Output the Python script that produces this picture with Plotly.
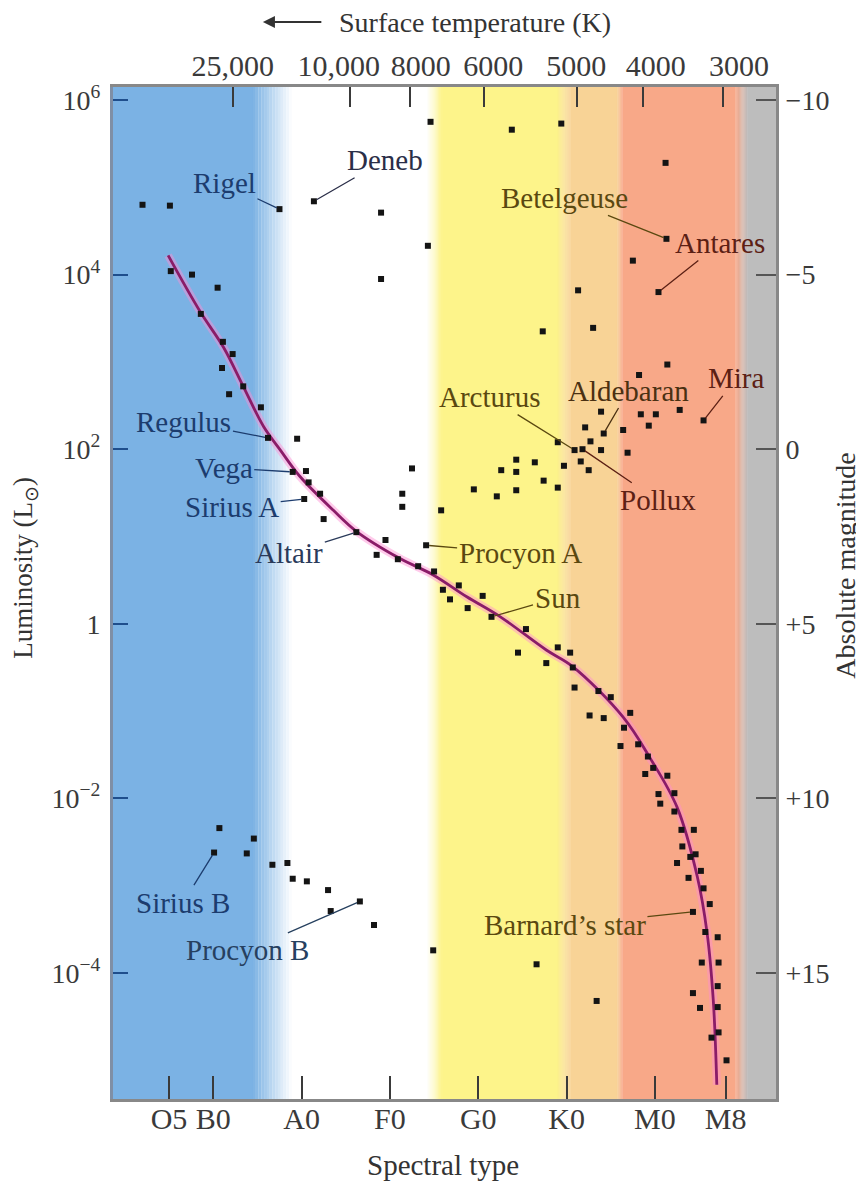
import numpy as np
import plotly.graph_objects as go

# ---------------- data ----------------
# x = spectral index (O0=0, B0=10, A0=20, F0=30, G0=40, K0=50, M0=60), y = log10(L/Lsun)
spectral_labels = ["O5", "B0", "A0", "F0", "G0", "K0", "M0", "M8"]
spectral_pos = [5, 10, 20, 30, 40, 50, 60, 68]

temp_labels = ["25,000", "10,000", "8000", "6000", "5000", "4000", "3000"]
temp_pos = [12.25, 25.5, 32.3, 40.65, 51.2, 58.6, 67.7]          # tick marks
temp_label_pos = [12.2, 24.2, 33.5, 41.7, 51.1, 60.1, 69.5]      # printed labels

lum_tick_vals = [1e6, 1e4, 1e2, 1, 1e-2, 1e-4]
lum_tick_text = ["10<sup>6</sup>", "10<sup>4</sup>", "10<sup>2</sup>", "1",
                 "10<sup>−2</sup>", "10<sup>−4</sup>"]

mag_tick_vals = [-10, -5, 0, 5, 10, 15]
mag_tick_text = ["−10", "−5", "0", "+5", "+10", "+15"]

named_stars = ["Rigel", "Deneb", "Betelgeuse", "Antares", "Regulus", "Vega", "Sirius A",
               "Altair", "Procyon A", "Sun", "Arcturus", "Aldebaran", "Pollux", "Mira",
               "Sirius B", "Procyon B", "Barnard’s star"]
named_s = [17.5, 21.4, 61.3, 60.4, 16.2, 19.0, 20.3, 26.2, 34.1, 41.5, 50.9, 54.2, 51.8,
           65.5, 10.1, 26.6, 64.3]
named_logL = [4.75, 4.84, 4.41, 3.80, 2.13, 1.74, 1.43, 1.05, 0.90, 0.08, 1.99, 2.18, 2.00,
              2.33, -2.62, -3.18, -3.30]

giant_s = [34.6, 43.8, 49.4, 61.2, 2.0, 5.1, 29.0, 34.3, 57.5, 29.0, 51.3, 47.3, 53.0,
           61.4, 58.2, 32.5, 31.4, 31.4, 35.8, 42.6, 44.3, 44.3, 46.4, 47.4, 39.5, 42.1,
           44.3, 49.0, 49.7, 49.0, 52.1, 52.7, 53.9, 51.6, 52.5, 53.9, 56.4, 56.9, 58.4,
           60.1, 59.3, 62.8, 46.6, 53.4]
giant_logL = [5.75, 5.66, 5.73, 5.28, 4.80, 4.79, 4.71, 4.33, 4.16, 3.95, 3.82, 3.35, 3.39,
              2.97, 2.85, 1.78, 1.49, 1.34, 1.30, 1.76, 1.88, 1.74, 1.85, 1.64, 1.54, 1.46,
              1.53, 1.56, 1.81, 2.08, 2.25, 2.09, 1.99, 1.86, 1.76, 2.43, 2.22, 1.96, 2.40,
              2.40, 2.27, 2.45, -3.90, -4.32]

ms_s = [5.2, 7.6, 10.5, 8.6, 11.1, 12.2, 11.0, 13.4, 11.8, 15.4, 19.5, 20.5, 20.8, 22.1,
        22.5, 29.5, 28.5, 30.9, 33.2, 35.0, 36.0, 37.8, 36.8, 38.8, 40.5, 45.4, 49.0, 44.5,
        50.4, 47.7, 50.7, 50.9, 53.6, 55.0, 52.6, 54.2, 57.2, 56.5, 56.1, 58.1, 59.2, 59.8,
        58.9, 61.4, 60.4, 62.2, 60.6, 62.2, 63.0, 64.4, 63.1, 64.6, 64.0, 62.5, 63.8, 65.2,
        65.5, 66.2, 65.7, 67.1, 65.3, 67.2, 67.1, 64.3, 65.1, 67.1, 67.2, 66.4, 68.1]
ms_logL = [4.04, 4.00, 3.85, 3.55, 3.23, 3.09, 2.93, 2.72, 2.63, 2.48, 2.12, 1.75, 1.62,
           1.49, 1.20, 0.96, 0.79, 0.74, 0.66, 0.60, 0.39, 0.44, 0.28, 0.18, 0.32, -0.06,
           -0.27, -0.33, -0.33, -0.45, -0.50, -0.73, -0.77, -0.84, -1.05, -1.08, -1.02,
           -1.19, -1.40, -1.38, -1.52, -1.65, -1.72, -1.74, -1.95, -1.94, -2.06, -2.15,
           -2.36, -2.36, -2.55, -2.64, -2.67, -2.74, -2.91, -2.83, -3.03, -3.21, -3.53,
           -3.59, -3.88, -3.88, -4.15, -4.23, -4.40, -4.39, -4.68, -4.74, -5.00]

wd_s = [10.7, 14.6, 13.8, 16.7, 18.4, 19.0, 20.6, 23.0, 23.3, 28.2, 34.9]
wd_logL = [-2.34, -2.46, -2.63, -2.76, -2.74, -2.92, -2.95, -3.05, -3.29, -3.45, -3.74]

curve_s = [4.9, 8.5, 11.15, 13.4, 15.7, 17.6, 19.8, 23.6, 26.2, 31.1, 34.9, 38.7, 42.5,
           47.7, 50.7, 56.4, 59.4, 62.5, 64.8, 65.9, 66.6, 67.0]
curve_logL = [4.22, 3.58, 3.17, 2.72, 2.26, 1.99, 1.69, 1.30, 1.06, 0.75, 0.56, 0.31, 0.08,
              -0.30, -0.49, -1.07, -1.53, -2.10, -2.90, -3.54, -4.31, -5.28]

# ---------------- styling ----------------
FONT = "Liberation Serif"
X_RANGE = [-1.34, 73.7]
Y_RANGE = [-5.443, 6.149]           # log10 L
BLUE, WHITE, YELLOW = "#7BB2E4", "#FFFFFF", "#FDF48A"
PEACH, SALMON, GRAY = "#F8D396", "#F8A888", "#BDBDBD"
bands = [  # (x0, x1, color_left, color_right)
    (X_RANGE[0], 14.5, BLUE, BLUE), (14.5, 18.9, BLUE, WHITE), (18.9, 34.2, WHITE, WHITE),
    (34.2, 35.9, WHITE, YELLOW), (35.9, 48.9, YELLOW, YELLOW), (48.9, 50.4, YELLOW, PEACH),
    (50.4, 55.7, PEACH, PEACH), (55.7, 56.3, PEACH, SALMON), (56.3, 69.1, SALMON, SALMON),
    (69.1, 70.5, SALMON, GRAY), (70.5, X_RANGE[1], GRAY, GRAY)]

NAVY, OLIVE, BROWN, RED = "#1C3C6E", "#5A4810", "#4A3012", "#5C2014"
label_style = {  # name: (ax, ay, color)
    "Rigel": (-55, -26, NAVY), "Deneb": (71, -41, "#2A2E48"),
    "Betelgeuse": (-102, -41, OLIVE), "Antares": (62, -49, RED),
    "Regulus": (-84, -16, NAVY), "Vega": (-69, -4, NAVY), "Sirius A": (-72, 8, NAVY),
    "Altair": (-67, 21, "#2A3A5A"), "Procyon A": (94, 8, OLIVE), "Sun": (66, -19, OLIVE),
    "Arcturus": (-85, -53, OLIVE), "Aldebaran": (25, -43, BROWN), "Pollux": (75, 51, RED),
    "Mira": (33, -42, RED), "Sirius B": (-31, 50, NAVY), "Procyon B": (-112, 49, "#26405F"),
    "Barnard’s star": (-128, 13, OLIVE)}


def hex2rgb(h):
    h = h.lstrip("#")
    return [int(h[i:i + 2], 16) for i in (0, 2, 4)]


shapes = []
for x0, x1, c0, c1 in bands:
    n = 1 if c0 == c1 else 14
    a, b = np.array(hex2rgb(c0)), np.array(hex2rgb(c1))
    for k in range(n):
        t = (k + 0.5) / n
        col = a + (b - a) * t
        shapes.append(dict(type="rect", xref="x", yref="paper", layer="below",
                           x0=x0 + (x1 - x0) * k / n, x1=x0 + (x1 - x0) * (k + 1) / n + 0.02,
                           y0=0, y1=1, line=dict(width=0),
                           fillcolor="rgb(%d,%d,%d)" % tuple(col)))

fig = go.Figure()

curve_L = 10 ** np.array(curve_logL)
fig.add_trace(go.Scatter(x=curve_s, y=curve_L, mode="lines", line_shape="spline",
                         line=dict(color="rgba(255,140,210,0.45)", width=8),
                         hoverinfo="skip", showlegend=False))
fig.add_trace(go.Scatter(x=curve_s, y=curve_L, mode="lines", line_shape="spline",
                         line=dict(color="#8A1C68", width=2.8),
                         hoverinfo="skip", showlegend=False))

all_s = giant_s + ms_s + wd_s + named_s
all_logL = giant_logL + ms_logL + wd_logL + named_logL
fig.add_trace(go.Scatter(x=all_s, y=10 ** np.array(all_logL), mode="markers",
                         marker=dict(symbol="square", size=6, color="#141414"),
                         showlegend=False))

# invisible traces carrying the secondary axes (M = 5 - 2.5 log L)
fig.add_trace(go.Scatter(x=curve_s, y=5 - 2.5 * np.array(curve_logL), xaxis="x2",
                         yaxis="y2", mode="lines", line=dict(width=0), opacity=0,
                         hoverinfo="skip", showlegend=False))
fig.add_trace(go.Scatter(x=curve_s, y=curve_L, xaxis="x3", yaxis="y", mode="lines",
                         line=dict(width=0), opacity=0, hoverinfo="skip", showlegend=False))

annotations = []
for name, s, lg in zip(named_stars, named_s, named_logL):
    ax, ay, col = label_style[name]
    annotations.append(dict(x=s, y=lg, xref="x", yref="y", text=name, showarrow=True,
                            arrowhead=0, arrowwidth=1.3, arrowcolor=col, ax=ax, ay=ay,
                            standoff=3, font=dict(family=FONT, size=29, color=col)))

# axis titles
annotations += [
    dict(x=0.497, y=0, xref="paper", yref="paper", yshift=-66, text="Spectral type",
         xanchor="center", yanchor="middle", showarrow=False,
         font=dict(family=FONT, size=29, color="#333")),
    dict(x=0, y=0.525, xref="paper", yref="paper", xshift=-88, text="Luminosity (L<sub>⊙</sub>)",
         xanchor="center", yanchor="middle", textangle=-90, showarrow=False,
         font=dict(family=FONT, size=27, color="#333")),
    dict(x=1, y=0.527, xref="paper", yref="paper", xshift=70, text="Absolute magnitude",
         xanchor="center", yanchor="middle", textangle=-90, showarrow=False,
         font=dict(family=FONT, size=28, color="#333")),
    dict(x=0.546, y=1, xref="paper", yref="paper", yshift=65,
         text="Surface temperature (K)", xanchor="center", yanchor="middle",
         showarrow=False, font=dict(family=FONT, size=28, color="#333")),
    dict(x=0.226, y=1, xref="paper", yref="paper", yshift=65, ax=60, ay=0, text="",
         showarrow=True, arrowhead=2, arrowsize=1.1, arrowwidth=2.2, arrowcolor="#333"),
]

tickfont_big = dict(family=FONT, size=30, color="#3A3A3A")
tickfont = dict(family=FONT, size=28, color="#3A3A3A")
fig.update_layout(
    # the page body adds an 8 px offset, so the figure is 8 px smaller each way
    width=856, height=1173, margin=dict(l=105, r=88, t=79, b=82, autoexpand=False),
    paper_bgcolor="white", plot_bgcolor="white", shapes=shapes, annotations=annotations,
    showlegend=False,
    xaxis=dict(range=X_RANGE, tickvals=spectral_pos, ticktext=spectral_labels,
               ticks="inside", ticklen=23, tickwidth=1.5, tickcolor="#3A3A3A",
               showgrid=False, zeroline=False, showline=True, linewidth=3,
               linecolor="#888888", tickfont=tickfont_big, tickangle=0,
               automargin=False, ticklabelstandoff=-9),
    xaxis2=dict(range=X_RANGE, overlaying="x", side="top", tickvals=temp_pos,
                showticklabels=False, ticks="inside", ticklen=20, tickwidth=1.5,
                tickcolor="#3A3A3A", showgrid=False, zeroline=False, showline=True,
                linewidth=3, linecolor="#888888", automargin=False),
    xaxis3=dict(range=X_RANGE, overlaying="x", side="top", tickvals=temp_label_pos,
                ticktext=temp_labels, ticks="", showgrid=False, zeroline=False,
                showline=False, tickfont=tickfont_big, tickangle=0, automargin=False,
                ticklabelstandoff=4),
    yaxis=dict(type="log", range=Y_RANGE, tickvals=lum_tick_vals, ticktext=lum_tick_text,
               ticks="inside", ticklen=15, tickwidth=2.2, tickcolor="#1F4E8C",
               showgrid=False, zeroline=False, showline=True, linewidth=3,
               linecolor="#7F8FA6", tickfont=tickfont, automargin=False,
               ticklabelstandoff=4),
    yaxis2=dict(range=[5 - 2.5 * Y_RANGE[0], 5 - 2.5 * Y_RANGE[1]], overlaying="y",
                side="right", anchor="x", tickvals=mag_tick_vals, ticktext=mag_tick_text,
                ticks="inside", ticklen=20, tickwidth=1.5, tickcolor="#555555",
                showgrid=False, zeroline=False, showline=True, linewidth=3,
                linecolor="#888888", tickfont=tickfont, automargin=False,
                ticklabelstandoff=1),
)

fig.write_html("out.html")
